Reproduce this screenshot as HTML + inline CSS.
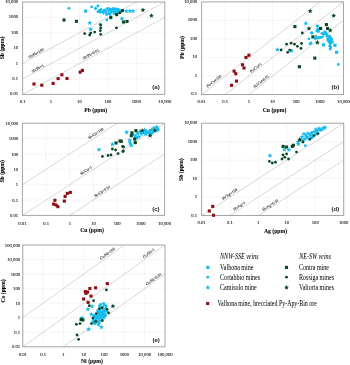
<!DOCTYPE html>
<html><head><meta charset="utf-8"><style>
html,body{margin:0;padding:0;background:#fff;}
svg{display:block;will-change:transform;}
.grid{stroke:#e3e3e3;stroke-width:0.7;stroke-dasharray:1 1.1;}
.diag{stroke:#bdbdbd;stroke-width:0.6;}
.box{fill:none;stroke:#a6a6a6;stroke-width:1.0;}
text{font-family:"Liberation Serif",serif;fill:#222;}
.tk{font-size:47px;fill:#111;stroke:#111;stroke-width:0.8;}
.rl{font-size:39px;fill:#222;stroke:#222;stroke-width:0.8;}
.let{font-size:61px;font-weight:bold;font-family:"Liberation Sans",sans-serif;}
.ttl{font-size:57px;font-weight:bold;fill:#000;stroke:#000;stroke-width:0.6;}
.lg{font-size:60.5px;fill:#000;stroke:#000;stroke-width:0.2;}
.lgi{font-size:60.5px;font-style:italic;fill:#000;stroke:#000;stroke-width:0.2;}
</style></head><body>
<svg width="350" height="365" viewBox="0 0 350 365">
<line x1="51.04" y1="2.00" x2="51.04" y2="94.40" class="grid"/>
<line x1="79.48" y1="2.00" x2="79.48" y2="94.40" class="grid"/>
<line x1="107.92" y1="2.00" x2="107.92" y2="94.40" class="grid"/>
<line x1="136.36" y1="2.00" x2="136.36" y2="94.40" class="grid"/>
<line x1="22.60" y1="79.00" x2="164.80" y2="79.00" class="grid"/>
<line x1="22.60" y1="63.60" x2="164.80" y2="63.60" class="grid"/>
<line x1="22.60" y1="48.20" x2="164.80" y2="48.20" class="grid"/>
<line x1="22.60" y1="32.80" x2="164.80" y2="32.80" class="grid"/>
<line x1="22.60" y1="17.40" x2="164.80" y2="17.40" class="grid"/>
<line x1="22.60" y1="63.60" x2="136.36" y2="2.00" class="diag"/>
<line x1="22.60" y1="79.00" x2="164.80" y2="2.00" class="diag"/>
<line x1="22.60" y1="94.40" x2="164.80" y2="17.40" class="diag"/>
<rect x="22.60" y="2.00" width="142.20" height="92.40" class="box"/>
<g transform="translate(18.10 95.40) scale(0.1000 0.1000)"><text class="tk" text-anchor="end">0.01</text></g>
<g transform="translate(18.10 80.00) scale(0.1000 0.1000)"><text class="tk" text-anchor="end">0.1</text></g>
<g transform="translate(18.10 64.60) scale(0.1000 0.1000)"><text class="tk" text-anchor="end">1</text></g>
<g transform="translate(18.10 49.20) scale(0.1000 0.1000)"><text class="tk" text-anchor="end">10</text></g>
<g transform="translate(18.10 33.80) scale(0.1000 0.1000)"><text class="tk" text-anchor="end">100</text></g>
<g transform="translate(18.10 18.40) scale(0.1000 0.1000)"><text class="tk" text-anchor="end">1000</text></g>
<g transform="translate(18.10 3.00) scale(0.1000 0.1000)"><text class="tk" text-anchor="end">10,000</text></g>
<g transform="translate(22.60 102.90) scale(0.1000 0.1000)"><text class="tk" text-anchor="middle">0.1</text></g>
<g transform="translate(51.04 102.90) scale(0.1000 0.1000)"><text class="tk" text-anchor="middle">1</text></g>
<g transform="translate(79.48 102.90) scale(0.1000 0.1000)"><text class="tk" text-anchor="middle">10</text></g>
<g transform="translate(107.92 102.90) scale(0.1000 0.1000)"><text class="tk" text-anchor="middle">100</text></g>
<g transform="translate(136.36 102.90) scale(0.1000 0.1000)"><text class="tk" text-anchor="middle">1000</text></g>
<g transform="translate(164.80 102.90) scale(0.1000 0.1000)"><text class="tk" text-anchor="middle">10,000</text></g>
<g transform="translate(36.60 54.50) rotate(-28.44) scale(0.1000 0.1000)"><text class="rl" text-anchor="middle">Sb/Pb=100</text></g>
<g transform="translate(38.30 69.60) rotate(-28.44) scale(0.1000 0.1000)"><text class="rl" text-anchor="middle">Sb/Pb=1</text></g>
<g transform="translate(91.50 55.40) rotate(-28.44) scale(0.1000 0.1000)"><text class="rl" text-anchor="middle">Sb/Pb=0.01</text></g>
<g transform="translate(156.00 88.60) scale(0.1000 0.1000)"><text class="let" text-anchor="middle">(a)</text></g>
<g transform="translate(4.00 48.00) rotate(-90.00) scale(0.1000 0.1000)"><text class="ttl" text-anchor="middle">Sb (ppm)</text></g>
<g transform="translate(95.70 111.60) scale(0.1000 0.1000)"><text class="ttl" text-anchor="middle">Pb (ppm)</text></g>
<circle cx="68.90" cy="8.30" r="1.40" fill="#14bbee"/>
<circle cx="91.70" cy="6.90" r="1.40" fill="#14bbee"/>
<circle cx="95.40" cy="8.60" r="1.40" fill="#14bbee"/>
<circle cx="97.90" cy="6.00" r="1.40" fill="#14bbee"/>
<circle cx="106.90" cy="20.00" r="1.40" fill="#14bbee"/>
<circle cx="95.60" cy="8.30" r="1.40" fill="#14bbee"/>
<circle cx="100.10" cy="24.30" r="1.40" fill="#14bbee"/>
<rect x="84.15" y="9.55" width="3.10" height="3.10" fill="#14bbee"/>
<circle cx="97.90" cy="11.70" r="1.40" fill="#14bbee"/>
<circle cx="100.10" cy="12.30" r="1.40" fill="#14bbee"/>
<circle cx="102.40" cy="11.70" r="1.40" fill="#14bbee"/>
<circle cx="105.30" cy="10.00" r="1.40" fill="#14bbee"/>
<circle cx="107.60" cy="8.30" r="1.40" fill="#14bbee"/>
<circle cx="109.90" cy="8.90" r="1.40" fill="#14bbee"/>
<circle cx="112.10" cy="9.40" r="1.40" fill="#14bbee"/>
<circle cx="115.00" cy="10.00" r="1.40" fill="#14bbee"/>
<circle cx="117.90" cy="10.60" r="1.40" fill="#14bbee"/>
<circle cx="120.70" cy="12.30" r="1.40" fill="#14bbee"/>
<circle cx="108.70" cy="13.40" r="1.40" fill="#14bbee"/>
<circle cx="111.00" cy="12.30" r="1.40" fill="#14bbee"/>
<circle cx="103.50" cy="13.00" r="1.40" fill="#14bbee"/>
<circle cx="113.50" cy="11.50" r="1.40" fill="#14bbee"/>
<circle cx="118.50" cy="9.50" r="1.40" fill="#14bbee"/>
<circle cx="106.00" cy="12.00" r="1.40" fill="#14bbee"/>
<circle cx="116.00" cy="12.00" r="1.40" fill="#14bbee"/>
<circle cx="104.00" cy="10.50" r="1.40" fill="#14bbee"/>
<circle cx="108.50" cy="10.50" r="1.40" fill="#14bbee"/>
<circle cx="111.00" cy="10.50" r="1.40" fill="#14bbee"/>
<circle cx="113.50" cy="8.50" r="1.40" fill="#14bbee"/>
<circle cx="116.50" cy="8.80" r="1.40" fill="#14bbee"/>
<circle cx="119.00" cy="11.00" r="1.40" fill="#14bbee"/>
<circle cx="121.50" cy="10.50" r="1.40" fill="#14bbee"/>
<circle cx="114.00" cy="13.50" r="1.40" fill="#14bbee"/>
<circle cx="117.00" cy="13.00" r="1.40" fill="#14bbee"/>
<circle cx="110.00" cy="14.50" r="1.40" fill="#14bbee"/>
<circle cx="106.50" cy="14.50" r="1.40" fill="#14bbee"/>
<circle cx="99.50" cy="10.50" r="1.40" fill="#14bbee"/>
<circle cx="101.00" cy="9.50" r="1.40" fill="#14bbee"/>
<path d="M89.70,20.30 L90.39,21.95 L92.17,22.10 L90.81,23.26 L91.23,25.00 L89.70,24.07 L88.17,25.00 L88.59,23.26 L87.23,22.10 L89.01,21.95Z" fill="#14bbee"/>
<path d="M90.70,26.70 L91.39,28.35 L93.17,28.50 L91.81,29.66 L92.23,31.40 L90.70,30.47 L89.17,31.40 L89.59,29.66 L88.23,28.50 L90.01,28.35Z" fill="#14bbee"/>
<path d="M121.90,16.00 L122.59,17.65 L124.37,17.80 L123.01,18.96 L123.43,20.70 L121.90,19.77 L120.37,20.70 L120.79,18.96 L119.43,17.80 L121.21,17.65Z" fill="#14bbee"/>
<path d="M126.40,8.50 L127.09,10.15 L128.87,10.30 L127.51,11.46 L127.93,13.20 L126.40,12.27 L124.87,13.20 L125.29,11.46 L123.93,10.30 L125.71,10.15Z" fill="#14bbee"/>
<path d="M129.90,8.50 L130.59,10.15 L132.37,10.30 L131.01,11.46 L131.43,13.20 L129.90,12.27 L128.37,13.20 L128.79,11.46 L127.43,10.30 L129.21,10.15Z" fill="#14bbee"/>
<path d="M132.90,8.50 L133.59,10.15 L135.37,10.30 L134.01,11.46 L134.43,13.20 L132.90,12.27 L131.37,13.20 L131.79,11.46 L130.43,10.30 L132.21,10.15Z" fill="#14bbee"/>
<rect x="62.45" y="18.45" width="3.10" height="3.10" fill="#094726"/>
<rect x="74.85" y="19.75" width="3.10" height="3.10" fill="#094726"/>
<rect x="109.25" y="16.05" width="3.10" height="3.10" fill="#094726"/>
<rect x="120.85" y="9.05" width="3.10" height="3.10" fill="#094726"/>
<rect x="115.15" y="13.05" width="3.10" height="3.10" fill="#094726"/>
<rect x="125.45" y="19.85" width="3.10" height="3.10" fill="#094726"/>
<rect x="121.95" y="20.45" width="3.10" height="3.10" fill="#094726"/>
<circle cx="84.70" cy="33.60" r="1.40" fill="#094726"/>
<circle cx="89.70" cy="35.00" r="1.40" fill="#094726"/>
<circle cx="94.70" cy="32.10" r="1.40" fill="#094726"/>
<circle cx="100.70" cy="25.00" r="1.40" fill="#094726"/>
<circle cx="100.70" cy="27.90" r="1.40" fill="#094726"/>
<circle cx="100.30" cy="30.70" r="1.40" fill="#094726"/>
<circle cx="100.70" cy="34.30" r="1.40" fill="#094726"/>
<circle cx="90.70" cy="33.10" r="1.40" fill="#094726"/>
<circle cx="116.40" cy="27.90" r="1.40" fill="#094726"/>
<circle cx="119.60" cy="12.90" r="1.40" fill="#094726"/>
<path d="M142.90,7.40 L143.59,9.05 L145.37,9.20 L144.01,10.36 L144.43,12.10 L142.90,11.17 L141.37,12.10 L141.79,10.36 L140.43,9.20 L142.21,9.05Z" fill="#094726"/>
<path d="M151.40,13.10 L152.09,14.75 L153.87,14.90 L152.51,16.06 L152.93,17.80 L151.40,16.87 L149.87,17.80 L150.29,16.06 L148.93,14.90 L150.71,14.75Z" fill="#094726"/>
<rect x="32.45" y="82.45" width="3.10" height="3.10" fill="#8e0c12"/>
<rect x="40.25" y="83.65" width="3.10" height="3.10" fill="#8e0c12"/>
<rect x="51.55" y="81.85" width="3.10" height="3.10" fill="#8e0c12"/>
<rect x="56.55" y="77.05" width="3.10" height="3.10" fill="#8e0c12"/>
<rect x="60.35" y="73.25" width="3.10" height="3.10" fill="#8e0c12"/>
<rect x="65.45" y="76.95" width="3.10" height="3.10" fill="#8e0c12"/>
<rect x="78.65" y="70.55" width="3.10" height="3.10" fill="#8e0c12"/>
<rect x="80.85" y="68.85" width="3.10" height="3.10" fill="#8e0c12"/>
<line x1="225.25" y1="1.90" x2="225.25" y2="94.50" class="grid"/>
<line x1="248.90" y1="1.90" x2="248.90" y2="94.50" class="grid"/>
<line x1="272.55" y1="1.90" x2="272.55" y2="94.50" class="grid"/>
<line x1="296.20" y1="1.90" x2="296.20" y2="94.50" class="grid"/>
<line x1="319.85" y1="1.90" x2="319.85" y2="94.50" class="grid"/>
<line x1="201.60" y1="75.98" x2="343.50" y2="75.98" class="grid"/>
<line x1="201.60" y1="57.46" x2="343.50" y2="57.46" class="grid"/>
<line x1="201.60" y1="38.94" x2="343.50" y2="38.94" class="grid"/>
<line x1="201.60" y1="20.42" x2="343.50" y2="20.42" class="grid"/>
<line x1="201.60" y1="94.50" x2="319.85" y2="1.90" class="diag"/>
<line x1="225.25" y1="94.50" x2="343.50" y2="1.90" class="diag"/>
<line x1="248.90" y1="94.50" x2="343.50" y2="20.42" class="diag"/>
<rect x="201.60" y="1.90" width="141.90" height="92.60" class="box"/>
<g transform="translate(197.10 95.40) scale(0.1000 0.1000)"><text class="tk" text-anchor="end">0.1</text></g>
<g transform="translate(197.10 76.88) scale(0.1000 0.1000)"><text class="tk" text-anchor="end">1</text></g>
<g transform="translate(197.10 58.36) scale(0.1000 0.1000)"><text class="tk" text-anchor="end">10</text></g>
<g transform="translate(197.10 39.84) scale(0.1000 0.1000)"><text class="tk" text-anchor="end">100</text></g>
<g transform="translate(197.10 21.32) scale(0.1000 0.1000)"><text class="tk" text-anchor="end">1000</text></g>
<g transform="translate(197.10 2.80) scale(0.1000 0.1000)"><text class="tk" text-anchor="end">10,000</text></g>
<g transform="translate(201.60 102.80) scale(0.1000 0.1000)"><text class="tk" text-anchor="middle">0.01</text></g>
<g transform="translate(225.25 102.80) scale(0.1000 0.1000)"><text class="tk" text-anchor="middle">0.1</text></g>
<g transform="translate(248.90 102.80) scale(0.1000 0.1000)"><text class="tk" text-anchor="middle">1</text></g>
<g transform="translate(272.55 102.80) scale(0.1000 0.1000)"><text class="tk" text-anchor="middle">10</text></g>
<g transform="translate(296.20 102.80) scale(0.1000 0.1000)"><text class="tk" text-anchor="middle">100</text></g>
<g transform="translate(319.85 102.80) scale(0.1000 0.1000)"><text class="tk" text-anchor="middle">1000</text></g>
<g transform="translate(343.50 102.80) scale(0.1000 0.1000)"><text class="tk" text-anchor="middle">10,000</text></g>
<g transform="translate(214.80 82.20) rotate(-38.06) scale(0.1000 0.1000)"><text class="rl" text-anchor="middle">Pb/Cu=100</text></g>
<g transform="translate(256.50 68.80) rotate(-38.06) scale(0.1000 0.1000)"><text class="rl" text-anchor="middle">Pb/Cu=1</text></g>
<g transform="translate(262.00 82.50) rotate(-38.06) scale(0.1000 0.1000)"><text class="rl" text-anchor="middle">Pb/Cu=0.01</text></g>
<g transform="translate(335.40 89.00) scale(0.1000 0.1000)"><text class="let" text-anchor="middle">(b)</text></g>
<g transform="translate(183.70 47.50) rotate(-90.00) scale(0.1000 0.1000)"><text class="ttl" text-anchor="middle">Pb (ppm)</text></g>
<g transform="translate(274.50 112.00) scale(0.1000 0.1000)"><text class="ttl" text-anchor="middle">Cu (ppm)</text></g>
<path d="M277.40,47.10 L278.09,48.75 L279.87,48.90 L278.51,50.06 L278.93,51.80 L277.40,50.87 L275.87,51.80 L276.29,50.06 L274.93,48.90 L276.71,48.75Z" fill="#14bbee"/>
<path d="M291.40,48.30 L292.09,49.95 L293.87,50.10 L292.51,51.26 L292.93,53.00 L291.40,52.07 L289.87,53.00 L290.29,51.26 L288.93,50.10 L290.71,49.95Z" fill="#14bbee"/>
<path d="M305.80,20.80 L306.49,22.45 L308.27,22.60 L306.91,23.76 L307.33,25.50 L305.80,24.57 L304.27,25.50 L304.69,23.76 L303.33,22.60 L305.11,22.45Z" fill="#14bbee"/>
<circle cx="317.40" cy="25.90" r="1.40" fill="#14bbee"/>
<circle cx="318.00" cy="29.10" r="1.40" fill="#14bbee"/>
<circle cx="316.70" cy="31.10" r="1.40" fill="#14bbee"/>
<circle cx="325.70" cy="32.40" r="1.40" fill="#14bbee"/>
<circle cx="323.80" cy="34.30" r="1.40" fill="#14bbee"/>
<circle cx="327.00" cy="36.20" r="1.40" fill="#14bbee"/>
<circle cx="330.20" cy="37.50" r="1.40" fill="#14bbee"/>
<circle cx="331.50" cy="39.40" r="1.40" fill="#14bbee"/>
<circle cx="330.80" cy="41.40" r="1.40" fill="#14bbee"/>
<circle cx="330.20" cy="43.90" r="1.40" fill="#14bbee"/>
<circle cx="330.80" cy="47.10" r="1.40" fill="#14bbee"/>
<circle cx="330.20" cy="49.10" r="1.40" fill="#14bbee"/>
<circle cx="319.30" cy="37.50" r="1.40" fill="#14bbee"/>
<circle cx="317.40" cy="38.10" r="1.40" fill="#14bbee"/>
<circle cx="315.40" cy="38.80" r="1.40" fill="#14bbee"/>
<circle cx="312.20" cy="33.00" r="1.40" fill="#14bbee"/>
<circle cx="309.00" cy="38.80" r="1.40" fill="#14bbee"/>
<circle cx="310.00" cy="43.90" r="1.40" fill="#14bbee"/>
<circle cx="338.30" cy="64.40" r="1.40" fill="#14bbee"/>
<circle cx="291.70" cy="50.60" r="1.40" fill="#14bbee"/>
<circle cx="317.20" cy="26.20" r="1.40" fill="#14bbee"/>
<circle cx="317.70" cy="29.60" r="1.40" fill="#14bbee"/>
<circle cx="318.60" cy="31.50" r="1.40" fill="#14bbee"/>
<circle cx="324.40" cy="32.00" r="1.40" fill="#14bbee"/>
<circle cx="325.30" cy="33.40" r="1.40" fill="#14bbee"/>
<circle cx="326.80" cy="34.40" r="1.40" fill="#14bbee"/>
<circle cx="329.20" cy="35.80" r="1.40" fill="#14bbee"/>
<circle cx="330.60" cy="37.70" r="1.40" fill="#14bbee"/>
<circle cx="331.60" cy="39.20" r="1.40" fill="#14bbee"/>
<circle cx="330.10" cy="40.60" r="1.40" fill="#14bbee"/>
<circle cx="330.60" cy="43.00" r="1.40" fill="#14bbee"/>
<circle cx="329.70" cy="45.90" r="1.40" fill="#14bbee"/>
<circle cx="330.10" cy="48.80" r="1.40" fill="#14bbee"/>
<circle cx="334.90" cy="45.40" r="1.40" fill="#14bbee"/>
<circle cx="322.00" cy="33.50" r="1.40" fill="#14bbee"/>
<circle cx="328.00" cy="38.50" r="1.40" fill="#14bbee"/>
<circle cx="329.00" cy="42.00" r="1.40" fill="#14bbee"/>
<circle cx="316.00" cy="36.50" r="1.40" fill="#14bbee"/>
<circle cx="320.50" cy="37.50" r="1.40" fill="#14bbee"/>
<circle cx="322.50" cy="36.80" r="1.40" fill="#14bbee"/>
<circle cx="311.40" cy="33.00" r="1.40" fill="#14bbee"/>
<circle cx="311.00" cy="43.00" r="1.40" fill="#14bbee"/>
<circle cx="332.50" cy="42.00" r="1.40" fill="#14bbee"/>
<rect x="321.85" y="43.25" width="3.10" height="3.10" fill="#14bbee"/>
<rect x="333.45" y="43.65" width="3.10" height="3.10" fill="#14bbee"/>
<rect x="335.05" y="50.75" width="3.10" height="3.10" fill="#14bbee"/>
<rect x="326.45" y="38.45" width="3.10" height="3.10" fill="#14bbee"/>
<rect x="293.35" y="25.05" width="3.10" height="3.10" fill="#094726"/>
<rect x="324.85" y="23.05" width="3.10" height="3.10" fill="#094726"/>
<rect x="311.35" y="35.35" width="3.10" height="3.10" fill="#094726"/>
<rect x="313.25" y="56.55" width="3.10" height="3.10" fill="#094726"/>
<rect x="297.85" y="65.15" width="3.10" height="3.10" fill="#094726"/>
<rect x="319.05" y="26.95" width="3.10" height="3.10" fill="#094726"/>
<rect x="326.05" y="26.95" width="3.10" height="3.10" fill="#094726"/>
<circle cx="286.60" cy="44.20" r="1.40" fill="#094726"/>
<circle cx="291.10" cy="43.20" r="1.40" fill="#094726"/>
<circle cx="294.50" cy="44.20" r="1.40" fill="#094726"/>
<circle cx="297.40" cy="46.30" r="1.40" fill="#094726"/>
<circle cx="287.70" cy="52.30" r="1.40" fill="#094726"/>
<circle cx="289.70" cy="50.10" r="1.40" fill="#094726"/>
<circle cx="281.10" cy="50.00" r="1.40" fill="#094726"/>
<circle cx="302.30" cy="33.00" r="1.40" fill="#094726"/>
<circle cx="301.50" cy="43.50" r="1.40" fill="#094726"/>
<circle cx="301.00" cy="48.40" r="1.40" fill="#094726"/>
<circle cx="320.50" cy="28.30" r="1.40" fill="#094726"/>
<path d="M310.20,8.50 L310.89,10.15 L312.67,10.30 L311.31,11.46 L311.73,13.20 L310.20,12.27 L308.67,13.20 L309.09,11.46 L307.73,10.30 L309.51,10.15Z" fill="#094726"/>
<path d="M333.70,13.10 L334.39,14.75 L336.17,14.90 L334.81,16.06 L335.23,17.80 L333.70,16.87 L332.17,17.80 L332.59,16.06 L331.23,14.90 L333.01,14.75Z" fill="#094726"/>
<path d="M317.40,40.00 L318.09,41.65 L319.87,41.80 L318.51,42.96 L318.93,44.70 L317.40,43.77 L315.87,44.70 L316.29,42.96 L314.93,41.80 L316.71,41.65Z" fill="#094726"/>
<path d="M309.00,25.90 L309.69,27.55 L311.47,27.70 L310.11,28.86 L310.53,30.60 L309.00,29.67 L307.47,30.60 L307.89,28.86 L306.53,27.70 L308.31,27.55Z" fill="#094726"/>
<path d="M330.20,27.80 L330.89,29.45 L332.67,29.60 L331.31,30.76 L331.73,32.50 L330.20,31.57 L328.67,32.50 L329.09,30.76 L327.73,29.60 L329.51,29.45Z" fill="#094726"/>
<rect x="230.05" y="83.75" width="3.10" height="3.10" fill="#8e0c12"/>
<rect x="234.95" y="79.55" width="3.10" height="3.10" fill="#8e0c12"/>
<rect x="232.55" y="69.65" width="3.10" height="3.10" fill="#8e0c12"/>
<rect x="234.25" y="72.15" width="3.10" height="3.10" fill="#8e0c12"/>
<rect x="240.95" y="63.25" width="3.10" height="3.10" fill="#8e0c12"/>
<rect x="242.45" y="66.45" width="3.10" height="3.10" fill="#8e0c12"/>
<rect x="244.45" y="55.85" width="3.10" height="3.10" fill="#8e0c12"/>
<rect x="247.35" y="53.65" width="3.10" height="3.10" fill="#8e0c12"/>
<line x1="46.10" y1="123.20" x2="46.10" y2="215.40" class="grid"/>
<line x1="69.80" y1="123.20" x2="69.80" y2="215.40" class="grid"/>
<line x1="93.50" y1="123.20" x2="93.50" y2="215.40" class="grid"/>
<line x1="117.20" y1="123.20" x2="117.20" y2="215.40" class="grid"/>
<line x1="140.90" y1="123.20" x2="140.90" y2="215.40" class="grid"/>
<line x1="22.40" y1="200.03" x2="164.60" y2="200.03" class="grid"/>
<line x1="22.40" y1="184.67" x2="164.60" y2="184.67" class="grid"/>
<line x1="22.40" y1="169.30" x2="164.60" y2="169.30" class="grid"/>
<line x1="22.40" y1="153.93" x2="164.60" y2="153.93" class="grid"/>
<line x1="22.40" y1="138.57" x2="164.60" y2="138.57" class="grid"/>
<line x1="22.40" y1="184.67" x2="117.20" y2="123.20" class="diag"/>
<line x1="22.40" y1="215.40" x2="164.60" y2="123.20" class="diag"/>
<line x1="69.80" y1="215.40" x2="164.60" y2="153.93" class="diag"/>
<rect x="22.40" y="123.20" width="142.20" height="92.20" class="box"/>
<g transform="translate(18.20 217.00) scale(0.1000 0.1000)"><text class="tk" text-anchor="end">0.01</text></g>
<g transform="translate(18.20 201.63) scale(0.1000 0.1000)"><text class="tk" text-anchor="end">0.1</text></g>
<g transform="translate(18.20 186.27) scale(0.1000 0.1000)"><text class="tk" text-anchor="end">1</text></g>
<g transform="translate(18.20 170.90) scale(0.1000 0.1000)"><text class="tk" text-anchor="end">10</text></g>
<g transform="translate(18.20 155.53) scale(0.1000 0.1000)"><text class="tk" text-anchor="end">100</text></g>
<g transform="translate(18.20 140.17) scale(0.1000 0.1000)"><text class="tk" text-anchor="end">1000</text></g>
<g transform="translate(18.20 124.80) scale(0.1000 0.1000)"><text class="tk" text-anchor="end">10,000</text></g>
<g transform="translate(22.40 224.50) scale(0.1000 0.1000)"><text class="tk" text-anchor="middle">0.01</text></g>
<g transform="translate(46.10 224.50) scale(0.1000 0.1000)"><text class="tk" text-anchor="middle">0.1</text></g>
<g transform="translate(69.80 224.50) scale(0.1000 0.1000)"><text class="tk" text-anchor="middle">1</text></g>
<g transform="translate(93.50 224.50) scale(0.1000 0.1000)"><text class="tk" text-anchor="middle">10</text></g>
<g transform="translate(117.20 224.50) scale(0.1000 0.1000)"><text class="tk" text-anchor="middle">100</text></g>
<g transform="translate(140.90 224.50) scale(0.1000 0.1000)"><text class="tk" text-anchor="middle">1000</text></g>
<g transform="translate(164.60 224.50) scale(0.1000 0.1000)"><text class="tk" text-anchor="middle">10,000</text></g>
<g transform="translate(96.50 134.50) rotate(-32.96) scale(0.1000 0.1000)"><text class="rl" text-anchor="middle">Sb/Cu=100</text></g>
<g transform="translate(86.70 171.60) rotate(-32.96) scale(0.1000 0.1000)"><text class="rl" text-anchor="middle">Sb/Cu=1</text></g>
<g transform="translate(102.90 192.50) rotate(-32.96) scale(0.1000 0.1000)"><text class="rl" text-anchor="middle">Sb/Cu=0.01</text></g>
<g transform="translate(155.90 210.70) scale(0.1000 0.1000)"><text class="let" text-anchor="middle">(c)</text></g>
<g transform="translate(4.30 171.30) rotate(-90.00) scale(0.1000 0.1000)"><text class="ttl" text-anchor="middle">Sb (ppm)</text></g>
<g transform="translate(92.00 232.30) scale(0.1000 0.1000)"><text class="ttl" text-anchor="middle">Cu (ppm)</text></g>
<path d="M99.00,147.00 L99.69,148.65 L101.47,148.80 L100.11,149.96 L100.53,151.70 L99.00,150.77 L97.47,151.70 L97.89,149.96 L96.53,148.80 L98.31,148.65Z" fill="#14bbee"/>
<path d="M112.40,141.80 L113.09,143.45 L114.87,143.60 L113.51,144.76 L113.93,146.50 L112.40,145.57 L110.87,146.50 L111.29,144.76 L109.93,143.60 L111.71,143.45Z" fill="#14bbee"/>
<path d="M126.70,129.70 L127.39,131.35 L129.17,131.50 L127.81,132.66 L128.23,134.40 L126.70,133.47 L125.17,134.40 L125.59,132.66 L124.23,131.50 L126.01,131.35Z" fill="#14bbee"/>
<path d="M137.60,130.80 L138.29,132.45 L140.07,132.60 L138.71,133.76 L139.13,135.50 L137.60,134.57 L136.07,135.50 L136.49,133.76 L135.13,132.60 L136.91,132.45Z" fill="#14bbee"/>
<path d="M139.90,129.10 L140.59,130.75 L142.37,130.90 L141.01,132.06 L141.43,133.80 L139.90,132.87 L138.37,133.80 L138.79,132.06 L137.43,130.90 L139.21,130.75Z" fill="#14bbee"/>
<path d="M143.30,129.70 L143.99,131.35 L145.77,131.50 L144.41,132.66 L144.83,134.40 L143.30,133.47 L141.77,134.40 L142.19,132.66 L140.83,131.50 L142.61,131.35Z" fill="#14bbee"/>
<path d="M146.10,128.50 L146.79,130.15 L148.57,130.30 L147.21,131.46 L147.63,133.20 L146.10,132.27 L144.57,133.20 L144.99,131.46 L143.63,130.30 L145.41,130.15Z" fill="#14bbee"/>
<path d="M147.90,130.30 L148.59,131.95 L150.37,132.10 L149.01,133.26 L149.43,135.00 L147.90,134.07 L146.37,135.00 L146.79,133.26 L145.43,132.10 L147.21,131.95Z" fill="#14bbee"/>
<path d="M151.30,127.40 L151.99,129.05 L153.77,129.20 L152.41,130.36 L152.83,132.10 L151.30,131.17 L149.77,132.10 L150.19,130.36 L148.83,129.20 L150.61,129.05Z" fill="#14bbee"/>
<path d="M153.60,125.70 L154.29,127.35 L156.07,127.50 L154.71,128.66 L155.13,130.40 L153.60,129.47 L152.07,130.40 L152.49,128.66 L151.13,127.50 L152.91,127.35Z" fill="#14bbee"/>
<path d="M156.40,124.50 L157.09,126.15 L158.87,126.30 L157.51,127.46 L157.93,129.20 L156.40,128.27 L154.87,129.20 L155.29,127.46 L153.93,126.30 L155.71,126.15Z" fill="#14bbee"/>
<path d="M158.10,127.40 L158.79,129.05 L160.57,129.20 L159.21,130.36 L159.63,132.10 L158.10,131.17 L156.57,132.10 L156.99,130.36 L155.63,129.20 L157.41,129.05Z" fill="#14bbee"/>
<path d="M152.40,130.30 L153.09,131.95 L154.87,132.10 L153.51,133.26 L153.93,135.00 L152.40,134.07 L150.87,135.00 L151.29,133.26 L149.93,132.10 L151.71,131.95Z" fill="#14bbee"/>
<path d="M138.70,134.30 L139.39,135.95 L141.17,136.10 L139.81,137.26 L140.23,139.00 L138.70,138.07 L137.17,139.00 L137.59,137.26 L136.23,136.10 L138.01,135.95Z" fill="#14bbee"/>
<path d="M136.40,135.40 L137.09,137.05 L138.87,137.20 L137.51,138.36 L137.93,140.10 L136.40,139.17 L134.87,140.10 L135.29,138.36 L133.93,137.20 L135.71,137.05Z" fill="#14bbee"/>
<path d="M133.00,132.00 L133.69,133.65 L135.47,133.80 L134.11,134.96 L134.53,136.70 L133.00,135.77 L131.47,136.70 L131.89,134.96 L130.53,133.80 L132.31,133.65Z" fill="#14bbee"/>
<path d="M145.60,131.40 L146.29,133.05 L148.07,133.20 L146.71,134.36 L147.13,136.10 L145.60,135.17 L144.07,136.10 L144.49,134.36 L143.13,133.20 L144.91,133.05Z" fill="#14bbee"/>
<path d="M141.50,131.20 L142.19,132.85 L143.97,133.00 L142.61,134.16 L143.03,135.90 L141.50,134.97 L139.97,135.90 L140.39,134.16 L139.03,133.00 L140.81,132.85Z" fill="#14bbee"/>
<path d="M149.50,128.60 L150.19,130.25 L151.97,130.40 L150.61,131.56 L151.03,133.30 L149.50,132.37 L147.97,133.30 L148.39,131.56 L147.03,130.40 L148.81,130.25Z" fill="#14bbee"/>
<path d="M155.50,127.90 L156.19,129.55 L157.97,129.70 L156.61,130.86 L157.03,132.60 L155.50,131.67 L153.97,132.60 L154.39,130.86 L153.03,129.70 L154.81,129.55Z" fill="#14bbee"/>
<path d="M157.50,125.90 L158.19,127.55 L159.97,127.70 L158.61,128.86 L159.03,130.60 L157.50,129.67 L155.97,130.60 L156.39,128.86 L155.03,127.70 L156.81,127.55Z" fill="#14bbee"/>
<path d="M135.00,133.20 L135.69,134.85 L137.47,135.00 L136.11,136.16 L136.53,137.90 L135.00,136.97 L133.47,137.90 L133.89,136.16 L132.53,135.00 L134.31,134.85Z" fill="#14bbee"/>
<path d="M144.50,127.60 L145.19,129.25 L146.97,129.40 L145.61,130.56 L146.03,132.30 L144.50,131.37 L142.97,132.30 L143.39,130.56 L142.03,129.40 L143.81,129.25Z" fill="#14bbee"/>
<path d="M150.50,131.00 L151.19,132.65 L152.97,132.80 L151.61,133.96 L152.03,135.70 L150.50,134.77 L148.97,135.70 L149.39,133.96 L148.03,132.80 L149.81,132.65Z" fill="#14bbee"/>
<path d="M129.60,137.70 L130.29,139.35 L132.07,139.50 L130.71,140.66 L131.13,142.40 L129.60,141.47 L128.07,142.40 L128.49,140.66 L127.13,139.50 L128.91,139.35Z" fill="#14bbee"/>
<path d="M130.10,140.50 L130.79,142.15 L132.57,142.30 L131.21,143.46 L131.63,145.20 L130.10,144.27 L128.57,145.20 L128.99,143.46 L127.63,142.30 L129.41,142.15Z" fill="#14bbee"/>
<path d="M131.30,142.80 L131.99,144.45 L133.77,144.60 L132.41,145.76 L132.83,147.50 L131.30,146.57 L129.77,147.50 L130.19,145.76 L128.83,144.60 L130.61,144.45Z" fill="#14bbee"/>
<circle cx="102.40" cy="156.40" r="1.40" fill="#094726"/>
<circle cx="108.00" cy="155.40" r="1.40" fill="#094726"/>
<circle cx="111.00" cy="155.00" r="1.40" fill="#094726"/>
<circle cx="118.00" cy="153.60" r="1.40" fill="#094726"/>
<circle cx="123.00" cy="151.60" r="1.40" fill="#094726"/>
<circle cx="123.60" cy="147.00" r="1.40" fill="#094726"/>
<circle cx="112.40" cy="149.00" r="1.40" fill="#094726"/>
<circle cx="115.60" cy="150.00" r="1.40" fill="#094726"/>
<circle cx="122.60" cy="146.40" r="1.40" fill="#094726"/>
<circle cx="123.20" cy="150.90" r="1.40" fill="#094726"/>
<rect x="114.45" y="141.45" width="3.10" height="3.10" fill="#094726"/>
<rect x="118.45" y="139.45" width="3.10" height="3.10" fill="#094726"/>
<rect x="119.75" y="139.75" width="3.10" height="3.10" fill="#094726"/>
<path d="M142.10,128.00 L142.79,129.65 L144.57,129.80 L143.21,130.96 L143.63,132.70 L142.10,131.77 L140.57,132.70 L140.99,130.96 L139.63,129.80 L141.41,129.65Z" fill="#094726"/>
<path d="M150.10,133.10 L150.79,134.75 L152.57,134.90 L151.21,136.06 L151.63,137.80 L150.10,136.87 L148.57,137.80 L148.99,136.06 L147.63,134.90 L149.41,134.75Z" fill="#094726"/>
<path d="M154.70,128.00 L155.39,129.65 L157.17,129.80 L155.81,130.96 L156.23,132.70 L154.70,131.77 L153.17,132.70 L153.59,130.96 L152.23,129.80 L154.01,129.65Z" fill="#094726"/>
<rect x="130.35" y="131.35" width="3.10" height="3.10" fill="#094726"/>
<rect x="129.75" y="134.15" width="3.10" height="3.10" fill="#094726"/>
<rect x="134.35" y="129.05" width="3.10" height="3.10" fill="#094726"/>
<rect x="133.15" y="137.55" width="3.10" height="3.10" fill="#094726"/>
<rect x="133.75" y="141.05" width="3.10" height="3.10" fill="#094726"/>
<rect x="53.35" y="198.75" width="3.10" height="3.10" fill="#8e0c12"/>
<rect x="52.05" y="202.55" width="3.10" height="3.10" fill="#8e0c12"/>
<rect x="54.55" y="203.45" width="3.10" height="3.10" fill="#8e0c12"/>
<rect x="56.35" y="205.15" width="3.10" height="3.10" fill="#8e0c12"/>
<rect x="62.75" y="199.55" width="3.10" height="3.10" fill="#8e0c12"/>
<rect x="63.55" y="194.85" width="3.10" height="3.10" fill="#8e0c12"/>
<rect x="65.75" y="191.85" width="3.10" height="3.10" fill="#8e0c12"/>
<rect x="68.75" y="190.85" width="3.10" height="3.10" fill="#8e0c12"/>
<line x1="230.02" y1="123.20" x2="230.02" y2="215.50" class="grid"/>
<line x1="258.44" y1="123.20" x2="258.44" y2="215.50" class="grid"/>
<line x1="286.86" y1="123.20" x2="286.86" y2="215.50" class="grid"/>
<line x1="315.28" y1="123.20" x2="315.28" y2="215.50" class="grid"/>
<line x1="201.60" y1="197.04" x2="343.70" y2="197.04" class="grid"/>
<line x1="201.60" y1="178.58" x2="343.70" y2="178.58" class="grid"/>
<line x1="201.60" y1="160.12" x2="343.70" y2="160.12" class="grid"/>
<line x1="201.60" y1="141.66" x2="343.70" y2="141.66" class="grid"/>
<line x1="201.60" y1="215.50" x2="343.70" y2="123.20" class="diag"/>
<line x1="230.02" y1="215.50" x2="343.70" y2="141.66" class="diag"/>
<line x1="258.44" y1="215.50" x2="343.70" y2="160.12" class="diag"/>
<rect x="201.60" y="123.20" width="142.10" height="92.30" class="box"/>
<g transform="translate(197.10 216.70) scale(0.1000 0.1000)"><text class="tk" text-anchor="end">0.1</text></g>
<g transform="translate(197.10 198.24) scale(0.1000 0.1000)"><text class="tk" text-anchor="end">1</text></g>
<g transform="translate(197.10 179.78) scale(0.1000 0.1000)"><text class="tk" text-anchor="end">10</text></g>
<g transform="translate(197.10 161.32) scale(0.1000 0.1000)"><text class="tk" text-anchor="end">100</text></g>
<g transform="translate(197.10 142.86) scale(0.1000 0.1000)"><text class="tk" text-anchor="end">1000</text></g>
<g transform="translate(197.10 124.40) scale(0.1000 0.1000)"><text class="tk" text-anchor="end">10,000</text></g>
<g transform="translate(201.60 223.60) scale(0.1000 0.1000)"><text class="tk" text-anchor="middle">0.01</text></g>
<g transform="translate(230.02 223.60) scale(0.1000 0.1000)"><text class="tk" text-anchor="middle">0.1</text></g>
<g transform="translate(258.44 223.60) scale(0.1000 0.1000)"><text class="tk" text-anchor="middle">1</text></g>
<g transform="translate(286.86 223.60) scale(0.1000 0.1000)"><text class="tk" text-anchor="middle">10</text></g>
<g transform="translate(315.28 223.60) scale(0.1000 0.1000)"><text class="tk" text-anchor="middle">100</text></g>
<g transform="translate(343.70 223.60) scale(0.1000 0.1000)"><text class="tk" text-anchor="middle">1000</text></g>
<g transform="translate(230.20 195.20) rotate(-33.01) scale(0.1000 0.1000)"><text class="rl" text-anchor="middle">Sb/Ag=100</text></g>
<g transform="translate(240.00 207.00) rotate(-33.01) scale(0.1000 0.1000)"><text class="rl" text-anchor="middle">Sb/Ag=1</text></g>
<g transform="translate(271.00 206.10) rotate(-33.01) scale(0.1000 0.1000)"><text class="rl" text-anchor="middle">Sb/Ag=0.01</text></g>
<g transform="translate(335.40 210.90) scale(0.1000 0.1000)"><text class="let" text-anchor="middle">(d)</text></g>
<g transform="translate(183.00 169.60) rotate(-90.00) scale(0.1000 0.1000)"><text class="ttl" text-anchor="middle">Sb (ppm)</text></g>
<g transform="translate(275.50 233.10) scale(0.1000 0.1000)"><text class="ttl" text-anchor="middle">Ag (ppm)</text></g>
<path d="M270.00,153.00 L270.69,154.65 L272.47,154.80 L271.11,155.96 L271.53,157.70 L270.00,156.77 L268.47,157.70 L268.89,155.96 L267.53,154.80 L269.31,154.65Z" fill="#14bbee"/>
<path d="M284.30,147.00 L284.99,148.65 L286.77,148.80 L285.41,149.96 L285.83,151.70 L284.30,150.77 L282.77,151.70 L283.19,149.96 L281.83,148.80 L283.61,148.65Z" fill="#14bbee"/>
<path d="M288.90,147.30 L289.59,148.95 L291.37,149.10 L290.01,150.26 L290.43,152.00 L288.90,151.07 L287.37,152.00 L287.79,150.26 L286.43,149.10 L288.21,148.95Z" fill="#14bbee"/>
<path d="M298.30,141.50 L298.99,143.15 L300.77,143.30 L299.41,144.46 L299.83,146.20 L298.30,145.27 L296.77,146.20 L297.19,144.46 L295.83,143.30 L297.61,143.15Z" fill="#14bbee"/>
<path d="M304.00,131.40 L304.69,133.05 L306.47,133.20 L305.11,134.36 L305.53,136.10 L304.00,135.17 L302.47,136.10 L302.89,134.36 L301.53,133.20 L303.31,133.05Z" fill="#14bbee"/>
<path d="M307.00,134.40 L307.69,136.05 L309.47,136.20 L308.11,137.36 L308.53,139.10 L307.00,138.17 L305.47,139.10 L305.89,137.36 L304.53,136.20 L306.31,136.05Z" fill="#14bbee"/>
<path d="M310.00,132.40 L310.69,134.05 L312.47,134.20 L311.11,135.36 L311.53,137.10 L310.00,136.17 L308.47,137.10 L308.89,135.36 L307.53,134.20 L309.31,134.05Z" fill="#14bbee"/>
<path d="M314.00,129.40 L314.69,131.05 L316.47,131.20 L315.11,132.36 L315.53,134.10 L314.00,133.17 L312.47,134.10 L312.89,132.36 L311.53,131.20 L313.31,131.05Z" fill="#14bbee"/>
<path d="M317.00,128.40 L317.69,130.05 L319.47,130.20 L318.11,131.36 L318.53,133.10 L317.00,132.17 L315.47,133.10 L315.89,131.36 L314.53,130.20 L316.31,130.05Z" fill="#14bbee"/>
<path d="M320.00,127.40 L320.69,129.05 L322.47,129.20 L321.11,130.36 L321.53,132.10 L320.00,131.17 L318.47,132.10 L318.89,130.36 L317.53,129.20 L319.31,129.05Z" fill="#14bbee"/>
<path d="M313.00,133.40 L313.69,135.05 L315.47,135.20 L314.11,136.36 L314.53,138.10 L313.00,137.17 L311.47,138.10 L311.89,136.36 L310.53,135.20 L312.31,135.05Z" fill="#14bbee"/>
<path d="M309.00,136.40 L309.69,138.05 L311.47,138.20 L310.11,139.36 L310.53,141.10 L309.00,140.17 L307.47,141.10 L307.89,139.36 L306.53,138.20 L308.31,138.05Z" fill="#14bbee"/>
<path d="M305.00,136.40 L305.69,138.05 L307.47,138.20 L306.11,139.36 L306.53,141.10 L305.00,140.17 L303.47,141.10 L303.89,139.36 L302.53,138.20 L304.31,138.05Z" fill="#14bbee"/>
<path d="M302.00,134.40 L302.69,136.05 L304.47,136.20 L303.11,137.36 L303.53,139.10 L302.00,138.17 L300.47,139.10 L300.89,137.36 L299.53,136.20 L301.31,136.05Z" fill="#14bbee"/>
<path d="M306.00,132.90 L306.69,134.55 L308.47,134.70 L307.11,135.86 L307.53,137.60 L306.00,136.67 L304.47,137.60 L304.89,135.86 L303.53,134.70 L305.31,134.55Z" fill="#14bbee"/>
<path d="M311.50,130.40 L312.19,132.05 L313.97,132.20 L312.61,133.36 L313.03,135.10 L311.50,134.17 L309.97,135.10 L310.39,133.36 L309.03,132.20 L310.81,132.05Z" fill="#14bbee"/>
<path d="M316.00,126.90 L316.69,128.55 L318.47,128.70 L317.11,129.86 L317.53,131.60 L316.00,130.67 L314.47,131.60 L314.89,129.86 L313.53,128.70 L315.31,128.55Z" fill="#14bbee"/>
<path d="M319.00,125.90 L319.69,127.55 L321.47,127.70 L320.11,128.86 L320.53,130.60 L319.00,129.67 L317.47,130.60 L317.89,128.86 L316.53,127.70 L318.31,127.55Z" fill="#14bbee"/>
<path d="M322.00,126.90 L322.69,128.55 L324.47,128.70 L323.11,129.86 L323.53,131.60 L322.00,130.67 L320.47,131.60 L320.89,129.86 L319.53,128.70 L321.31,128.55Z" fill="#14bbee"/>
<path d="M323.50,125.40 L324.19,127.05 L325.97,127.20 L324.61,128.36 L325.03,130.10 L323.50,129.17 L321.97,130.10 L322.39,128.36 L321.03,127.20 L322.81,127.05Z" fill="#14bbee"/>
<path d="M316.50,131.40 L317.19,133.05 L318.97,133.20 L317.61,134.36 L318.03,136.10 L316.50,135.17 L314.97,136.10 L315.39,134.36 L314.03,133.20 L315.81,133.05Z" fill="#14bbee"/>
<path d="M303.00,137.90 L303.69,139.55 L305.47,139.70 L304.11,140.86 L304.53,142.60 L303.00,141.67 L301.47,142.60 L301.89,140.86 L300.53,139.70 L302.31,139.55Z" fill="#14bbee"/>
<path d="M308.00,130.90 L308.69,132.55 L310.47,132.70 L309.11,133.86 L309.53,135.60 L308.00,134.67 L306.47,135.60 L306.89,133.86 L305.53,132.70 L307.31,132.55Z" fill="#14bbee"/>
<path d="M312.00,134.90 L312.69,136.55 L314.47,136.70 L313.11,137.86 L313.53,139.60 L312.00,138.67 L310.47,139.60 L310.89,137.86 L309.53,136.70 L311.31,136.55Z" fill="#14bbee"/>
<path d="M325.00,124.90 L325.69,126.55 L327.47,126.70 L326.11,127.86 L326.53,129.60 L325.00,128.67 L323.47,129.60 L323.89,127.86 L322.53,126.70 L324.31,126.55Z" fill="#14bbee"/>
<path d="M298.00,139.40 L298.69,141.05 L300.47,141.20 L299.11,142.36 L299.53,144.10 L298.00,143.17 L296.47,144.10 L296.89,142.36 L295.53,141.20 L297.31,141.05Z" fill="#14bbee"/>
<circle cx="305.30" cy="145.70" r="1.40" fill="#14bbee"/>
<circle cx="269.40" cy="161.30" r="1.40" fill="#094726"/>
<circle cx="272.30" cy="163.00" r="1.40" fill="#094726"/>
<circle cx="275.50" cy="162.20" r="1.40" fill="#094726"/>
<circle cx="282.00" cy="159.00" r="1.40" fill="#094726"/>
<circle cx="284.90" cy="157.30" r="1.40" fill="#094726"/>
<circle cx="283.10" cy="155.00" r="1.40" fill="#094726"/>
<circle cx="286.60" cy="153.90" r="1.40" fill="#094726"/>
<circle cx="288.50" cy="159.00" r="1.40" fill="#094726"/>
<circle cx="296.50" cy="152.10" r="1.40" fill="#094726"/>
<rect x="281.55" y="144.85" width="3.10" height="3.10" fill="#094726"/>
<rect x="285.05" y="145.45" width="3.10" height="3.10" fill="#094726"/>
<rect x="290.75" y="144.85" width="3.10" height="3.10" fill="#094726"/>
<rect x="291.85" y="143.75" width="3.10" height="3.10" fill="#094726"/>
<path d="M299.70,137.00 L300.39,138.65 L302.17,138.80 L300.81,139.96 L301.23,141.70 L299.70,140.77 L298.17,141.70 L298.59,139.96 L297.23,138.80 L299.01,138.65Z" fill="#094726"/>
<circle cx="310.00" cy="139.00" r="1.40" fill="#094726"/>
<circle cx="314.00" cy="135.60" r="1.40" fill="#094726"/>
<circle cx="318.00" cy="133.60" r="1.40" fill="#094726"/>
<circle cx="300.00" cy="140.00" r="1.40" fill="#094726"/>
<circle cx="303.00" cy="142.00" r="1.40" fill="#094726"/>
<rect x="211.15" y="204.85" width="3.10" height="3.10" fill="#8e0c12"/>
<rect x="207.75" y="209.45" width="3.10" height="3.10" fill="#8e0c12"/>
<rect x="212.05" y="213.75" width="3.10" height="3.10" fill="#8e0c12"/>
<line x1="43.11" y1="245.00" x2="43.11" y2="346.80" class="grid"/>
<line x1="63.43" y1="245.00" x2="63.43" y2="346.80" class="grid"/>
<line x1="83.74" y1="245.00" x2="83.74" y2="346.80" class="grid"/>
<line x1="104.06" y1="245.00" x2="104.06" y2="346.80" class="grid"/>
<line x1="124.37" y1="245.00" x2="124.37" y2="346.80" class="grid"/>
<line x1="144.69" y1="245.00" x2="144.69" y2="346.80" class="grid"/>
<line x1="22.80" y1="332.26" x2="165.00" y2="332.26" class="grid"/>
<line x1="22.80" y1="317.71" x2="165.00" y2="317.71" class="grid"/>
<line x1="22.80" y1="303.17" x2="165.00" y2="303.17" class="grid"/>
<line x1="22.80" y1="288.63" x2="165.00" y2="288.63" class="grid"/>
<line x1="22.80" y1="274.09" x2="165.00" y2="274.09" class="grid"/>
<line x1="22.80" y1="259.54" x2="165.00" y2="259.54" class="grid"/>
<line x1="22.80" y1="317.71" x2="124.37" y2="245.00" class="diag"/>
<line x1="22.80" y1="346.80" x2="165.00" y2="245.00" class="diag"/>
<line x1="63.43" y1="346.80" x2="165.00" y2="274.09" class="diag"/>
<rect x="22.80" y="245.00" width="142.20" height="101.80" class="box"/>
<g transform="translate(20.10 348.40) scale(0.1000 0.1000)"><text class="tk" text-anchor="end">0.01</text></g>
<g transform="translate(20.10 333.86) scale(0.1000 0.1000)"><text class="tk" text-anchor="end">0.1</text></g>
<g transform="translate(20.10 319.31) scale(0.1000 0.1000)"><text class="tk" text-anchor="end">1</text></g>
<g transform="translate(20.10 304.77) scale(0.1000 0.1000)"><text class="tk" text-anchor="end">10</text></g>
<g transform="translate(20.10 290.23) scale(0.1000 0.1000)"><text class="tk" text-anchor="end">100</text></g>
<g transform="translate(20.10 275.69) scale(0.1000 0.1000)"><text class="tk" text-anchor="end">1000</text></g>
<g transform="translate(20.10 261.14) scale(0.1000 0.1000)"><text class="tk" text-anchor="end">10,000</text></g>
<g transform="translate(20.10 246.60) scale(0.1000 0.1000)"><text class="tk" text-anchor="end">100,000</text></g>
<g transform="translate(22.80 355.50) scale(0.1000 0.1000)"><text class="tk" text-anchor="middle">0.01</text></g>
<g transform="translate(43.11 355.50) scale(0.1000 0.1000)"><text class="tk" text-anchor="middle">0.1</text></g>
<g transform="translate(63.43 355.50) scale(0.1000 0.1000)"><text class="tk" text-anchor="middle">1</text></g>
<g transform="translate(83.74 355.50) scale(0.1000 0.1000)"><text class="tk" text-anchor="middle">10</text></g>
<g transform="translate(104.06 355.50) scale(0.1000 0.1000)"><text class="tk" text-anchor="middle">100</text></g>
<g transform="translate(124.37 355.50) scale(0.1000 0.1000)"><text class="tk" text-anchor="middle">1000</text></g>
<g transform="translate(144.69 355.50) scale(0.1000 0.1000)"><text class="tk" text-anchor="middle">10,000</text></g>
<g transform="translate(165.00 355.50) scale(0.1000 0.1000)"><text class="tk" text-anchor="middle">100,000</text></g>
<g transform="translate(108.20 254.60) rotate(-35.60) scale(0.1000 0.1000)"><text class="rl" text-anchor="middle">Co/Ni=100</text></g>
<g transform="translate(149.60 254.20) rotate(-35.60) scale(0.1000 0.1000)"><text class="rl" text-anchor="middle">Co/Ni=1</text></g>
<g transform="translate(154.50 280.20) rotate(-35.60) scale(0.1000 0.1000)"><text class="rl" text-anchor="middle">Co/Ni=0.01</text></g>
<g transform="translate(156.10 341.80) scale(0.1000 0.1000)"><text class="let" text-anchor="middle">(e)</text></g>
<g transform="translate(4.80 291.00) rotate(-90.00) scale(0.1000 0.1000)"><text class="ttl" text-anchor="middle">Co (ppm)</text></g>
<g transform="translate(92.00 363.00) scale(0.1000 0.1000)"><text class="ttl" text-anchor="middle">Ni (ppm)</text></g>
<circle cx="100.70" cy="304.30" r="1.40" fill="#14bbee"/>
<circle cx="104.30" cy="305.00" r="1.40" fill="#14bbee"/>
<circle cx="100.00" cy="309.30" r="1.40" fill="#14bbee"/>
<circle cx="102.90" cy="310.70" r="1.40" fill="#14bbee"/>
<circle cx="98.60" cy="312.90" r="1.40" fill="#14bbee"/>
<circle cx="105.00" cy="313.60" r="1.40" fill="#14bbee"/>
<circle cx="95.70" cy="315.00" r="1.40" fill="#14bbee"/>
<circle cx="100.70" cy="315.00" r="1.40" fill="#14bbee"/>
<circle cx="103.60" cy="316.40" r="1.40" fill="#14bbee"/>
<circle cx="93.60" cy="319.30" r="1.40" fill="#14bbee"/>
<circle cx="97.90" cy="317.90" r="1.40" fill="#14bbee"/>
<circle cx="101.40" cy="317.90" r="1.40" fill="#14bbee"/>
<circle cx="97.10" cy="322.10" r="1.40" fill="#14bbee"/>
<circle cx="99.30" cy="322.90" r="1.40" fill="#14bbee"/>
<circle cx="92.90" cy="321.40" r="1.40" fill="#14bbee"/>
<circle cx="102.50" cy="307.00" r="1.40" fill="#14bbee"/>
<circle cx="106.00" cy="308.00" r="1.40" fill="#14bbee"/>
<circle cx="104.50" cy="311.00" r="1.40" fill="#14bbee"/>
<circle cx="101.80" cy="313.00" r="1.40" fill="#14bbee"/>
<circle cx="99.00" cy="315.50" r="1.40" fill="#14bbee"/>
<circle cx="96.50" cy="318.50" r="1.40" fill="#14bbee"/>
<circle cx="99.50" cy="320.50" r="1.40" fill="#14bbee"/>
<circle cx="95.00" cy="320.50" r="1.40" fill="#14bbee"/>
<circle cx="94.50" cy="317.00" r="1.40" fill="#14bbee"/>
<circle cx="97.50" cy="311.00" r="1.40" fill="#14bbee"/>
<circle cx="103.70" cy="303.50" r="1.40" fill="#14bbee"/>
<circle cx="107.00" cy="311.50" r="1.40" fill="#14bbee"/>
<circle cx="102.50" cy="320.00" r="1.40" fill="#14bbee"/>
<circle cx="98.50" cy="325.00" r="1.40" fill="#14bbee"/>
<circle cx="101.00" cy="306.80" r="1.40" fill="#14bbee"/>
<circle cx="104.50" cy="309.50" r="1.40" fill="#14bbee"/>
<circle cx="98.50" cy="310.50" r="1.40" fill="#14bbee"/>
<circle cx="103.00" cy="312.50" r="1.40" fill="#14bbee"/>
<circle cx="105.50" cy="315.50" r="1.40" fill="#14bbee"/>
<circle cx="100.50" cy="311.50" r="1.40" fill="#14bbee"/>
<circle cx="97.00" cy="316.20" r="1.40" fill="#14bbee"/>
<circle cx="101.20" cy="316.50" r="1.40" fill="#14bbee"/>
<circle cx="99.20" cy="318.50" r="1.40" fill="#14bbee"/>
<circle cx="96.50" cy="320.30" r="1.40" fill="#14bbee"/>
<circle cx="93.50" cy="322.80" r="1.40" fill="#14bbee"/>
<circle cx="98.80" cy="323.50" r="1.40" fill="#14bbee"/>
<circle cx="106.20" cy="306.00" r="1.40" fill="#14bbee"/>
<circle cx="99.50" cy="305.80" r="1.40" fill="#14bbee"/>
<circle cx="94.20" cy="315.50" r="1.40" fill="#14bbee"/>
<circle cx="100.00" cy="313.50" r="1.40" fill="#14bbee"/>
<circle cx="102.80" cy="315.00" r="1.40" fill="#14bbee"/>
<path d="M91.40,311.70 L92.09,313.35 L93.87,313.50 L92.51,314.66 L92.93,316.40 L91.40,315.47 L89.87,316.40 L90.29,314.66 L88.93,313.50 L90.71,313.35Z" fill="#14bbee"/>
<path d="M87.90,306.70 L88.59,308.35 L90.37,308.50 L89.01,309.66 L89.43,311.40 L87.90,310.47 L86.37,311.40 L86.79,309.66 L85.43,308.50 L87.21,308.35Z" fill="#14bbee"/>
<path d="M92.10,303.80 L92.79,305.45 L94.57,305.60 L93.21,306.76 L93.63,308.50 L92.10,307.57 L90.57,308.50 L90.99,306.76 L89.63,305.60 L91.41,305.45Z" fill="#14bbee"/>
<path d="M101.40,324.50 L102.09,326.15 L103.87,326.30 L102.51,327.46 L102.93,329.20 L101.40,328.27 L99.87,329.20 L100.29,327.46 L98.93,326.30 L100.71,326.15Z" fill="#14bbee"/>
<path d="M88.60,326.70 L89.29,328.35 L91.07,328.50 L89.71,329.66 L90.13,331.40 L88.60,330.47 L87.07,331.40 L87.49,329.66 L86.13,328.50 L87.91,328.35Z" fill="#14bbee"/>
<path d="M82.10,315.30 L82.79,316.95 L84.57,317.10 L83.21,318.26 L83.63,320.00 L82.10,319.07 L80.57,320.00 L80.99,318.26 L79.63,317.10 L81.41,316.95Z" fill="#14bbee"/>
<path d="M104.00,314.90 L104.69,316.55 L106.47,316.70 L105.11,317.86 L105.53,319.60 L104.00,318.67 L102.47,319.60 L102.89,317.86 L101.53,316.70 L103.31,316.55Z" fill="#14bbee"/>
<path d="M95.00,320.90 L95.69,322.55 L97.47,322.70 L96.11,323.86 L96.53,325.60 L95.00,324.67 L93.47,325.60 L93.89,323.86 L92.53,322.70 L94.31,322.55Z" fill="#14bbee"/>
<circle cx="106.40" cy="289.90" r="1.40" fill="#094726"/>
<circle cx="93.60" cy="300.70" r="1.40" fill="#094726"/>
<circle cx="89.30" cy="305.70" r="1.40" fill="#094726"/>
<circle cx="76.40" cy="324.30" r="1.40" fill="#094726"/>
<circle cx="80.00" cy="323.60" r="1.40" fill="#094726"/>
<circle cx="77.10" cy="335.00" r="1.40" fill="#094726"/>
<circle cx="78.60" cy="339.30" r="1.40" fill="#094726"/>
<circle cx="99.30" cy="308.60" r="1.40" fill="#094726"/>
<circle cx="102.10" cy="307.90" r="1.40" fill="#094726"/>
<circle cx="107.10" cy="309.30" r="1.40" fill="#094726"/>
<circle cx="108.60" cy="312.90" r="1.40" fill="#094726"/>
<circle cx="96.40" cy="313.60" r="1.40" fill="#094726"/>
<circle cx="92.90" cy="317.90" r="1.40" fill="#094726"/>
<circle cx="95.70" cy="321.40" r="1.40" fill="#094726"/>
<circle cx="102.10" cy="320.70" r="1.40" fill="#094726"/>
<circle cx="91.40" cy="323.60" r="1.40" fill="#094726"/>
<rect x="79.55" y="317.95" width="3.10" height="3.10" fill="#094726"/>
<rect x="81.35" y="318.45" width="3.10" height="3.10" fill="#094726"/>
<path d="M112.90,303.60 L113.59,305.25 L115.37,305.40 L114.01,306.56 L114.43,308.30 L112.90,307.37 L111.37,308.30 L111.79,306.56 L110.43,305.40 L112.21,305.25Z" fill="#094726"/>
<rect x="105.75" y="282.05" width="3.10" height="3.10" fill="#8e0c12"/>
<rect x="94.05" y="286.25" width="3.10" height="3.10" fill="#8e0c12"/>
<rect x="88.35" y="286.95" width="3.10" height="3.10" fill="#8e0c12"/>
<rect x="83.75" y="290.05" width="3.10" height="3.10" fill="#8e0c12"/>
<rect x="86.05" y="290.55" width="3.10" height="3.10" fill="#8e0c12"/>
<rect x="84.35" y="291.75" width="3.10" height="3.10" fill="#8e0c12"/>
<rect x="89.45" y="294.55" width="3.10" height="3.10" fill="#8e0c12"/>
<rect x="82.05" y="297.45" width="3.10" height="3.10" fill="#8e0c12"/>
<rect x="86.55" y="300.85" width="3.10" height="3.10" fill="#8e0c12"/>
<g transform="translate(220.10 258.90) scale(0.1000 0.1190)"><text class="lgi" text-anchor="start">NNW-SSE veins</text></g>
<g transform="translate(299.30 258.90) scale(0.1000 0.1190)"><text class="lgi" text-anchor="start">NE-SW veins</text></g>
<rect x="206.25" y="265.85" width="3.10" height="3.10" fill="#14bbee"/>
<g transform="translate(220.10 269.80) scale(0.1000 0.1190)"><text class="lg" text-anchor="start">Valbona mine</text></g>
<circle cx="207.80" cy="277.20" r="1.40" fill="#14bbee"/>
<g transform="translate(220.10 279.60) scale(0.1000 0.1190)"><text class="lg" text-anchor="start">Cortabbio mines</text></g>
<path d="M207.80,284.90 L208.49,286.55 L210.27,286.70 L208.91,287.86 L209.33,289.60 L207.80,288.67 L206.27,289.60 L206.69,287.86 L205.33,286.70 L207.11,286.55Z" fill="#14bbee"/>
<g transform="translate(220.10 289.90) scale(0.1000 0.1190)"><text class="lg" text-anchor="start">Camisolo mine</text></g>
<rect x="284.95" y="265.85" width="3.10" height="3.10" fill="#094726"/>
<g transform="translate(299.00 269.80) scale(0.1000 0.1190)"><text class="lg" text-anchor="start">Contra mine</text></g>
<circle cx="286.50" cy="277.20" r="1.40" fill="#094726"/>
<g transform="translate(299.00 279.60) scale(0.1000 0.1190)"><text class="lg" text-anchor="start">Rossiga mines</text></g>
<path d="M286.50,284.90 L287.19,286.55 L288.97,286.70 L287.61,287.86 L288.03,289.60 L286.50,288.67 L284.97,289.60 L285.39,287.86 L284.03,286.70 L285.81,286.55Z" fill="#094726"/>
<g transform="translate(299.00 289.90) scale(0.1000 0.1190)"><text class="lg" text-anchor="start">Valtorta mines</text></g>
<rect x="206.15" y="301.95" width="3.10" height="3.10" fill="#8e0c12"/>
<g transform="translate(217.50 306.00) scale(0.0980 0.1190)"><text class="lg" text-anchor="start">Valbona mine, brecciated Py-Apy-Bin ore</text></g>
</svg>
</body></html>
